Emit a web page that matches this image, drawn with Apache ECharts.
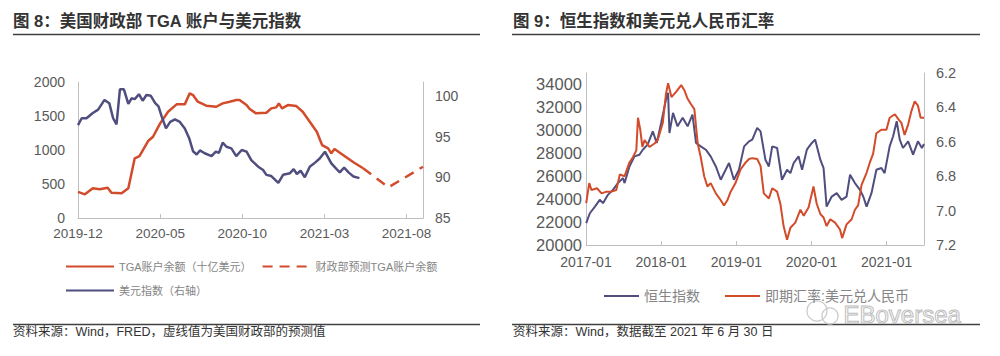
<!DOCTYPE html>
<html><head><meta charset="utf-8">
<script src="https://cdn.jsdelivr.net/npm/echarts@6/dist/echarts.min.js"></script>
<style>html,body{margin:0;padding:0;background:#fff}#c{width:1000px;height:356px}</style>
</head><body><div id="c"></div>
<script>
// ---------- Figure 8 data ----------
const tgaDates = ['2019-12-01','2019-12-14','2019-12-29','2020-01-11','2020-01-26','2020-02-02','2020-02-20','2020-03-03','2020-03-15','2020-03-24','2020-04-09','2020-04-18','2020-05-01','2020-05-16','2020-06-01','2020-06-16','2020-06-25','2020-07-01','2020-07-10','2020-07-26','2020-08-14','2020-08-26','2020-09-08','2020-09-20','2020-09-26','2020-10-09','2020-10-15','2020-10-27','2020-11-15','2020-11-24','2020-12-03','2020-12-08','2020-12-14','2020-12-25','2021-01-10','2021-01-22','2021-02-04','2021-02-16','2021-02-25','2021-03-08','2021-03-14','2021-03-20','2021-04-05','2021-04-24','2021-05-12'];
const tgaValues = [385,348,436,422,446,372,363,436,877,911,1132,1195,1392,1563,1671,1671,1833,1808,1710,1651,1636,1686,1710,1735,1735,1661,1602,1539,1548,1612,1627,1686,1612,1661,1646,1563,1416,1269,1073,1024,951,1014,926,819,731];
const tgaForecastDates = ['2021-05-12','2021-06-28','2021-09-01'];
const tgaForecastValues = [731,451,754];
const dxyDates = ['2019-12-01','2019-12-08','2019-12-17','2019-12-29','2020-01-08','2020-01-20','2020-01-29','2020-02-05','2020-02-11','2020-02-17','2020-02-24','2020-03-03','2020-03-09','2020-03-15','2020-03-23','2020-03-30','2020-04-06','2020-04-14','2020-04-22','2020-04-28','2020-05-04','2020-05-12','2020-05-20','2020-05-29','2020-06-07','2020-06-16','2020-06-24','2020-07-01','2020-07-08','2020-07-14','2020-07-23','2020-08-05','2020-08-13','2020-08-19','2020-08-26','2020-09-02','2020-09-11','2020-09-20','2020-09-30','2020-10-09','2020-10-18','2020-10-31','2020-11-09','2020-11-15','2020-11-24','2020-12-07','2020-12-16','2020-12-29','2021-01-05','2021-01-11','2021-01-18','2021-01-26','2021-02-04','2021-02-13','2021-02-21','2021-03-02','2021-03-14','2021-03-24','2021-03-30','2021-04-07','2021-04-15','2021-04-24','2021-05-05'];
const dxyValues = [96.4,97.25,97.25,97.9,98.3,99.5,99.1,97.25,96.5,100.8,100.8,99.0,99.7,99.6,100.2,99.4,100.1,100.0,99.1,98.7,97.45,96.0,96.8,97.1,96.8,96.0,94.8,93.2,92.8,93.3,92.95,92.6,93.15,93.0,94.25,93.75,93.55,92.6,93.35,93.15,92.1,91.3,90.9,90.3,90.15,89.3,90.3,90.5,91.0,90.4,90.8,90.0,91.3,91.8,92.3,93.15,91.7,91.0,90.6,91.2,90.6,90.1,89.9];
const fig8XTicks = ['2019-12','2020-05','2020-10','2021-03','2021-08'];

// ---------- Figure 9 data ----------
const hsiDates = ['2017-01-02','2017-01-20','2017-02-13','2017-03-07','2017-03-23','2017-04-16','2017-05-10','2017-06-04','2017-06-28','2017-07-06','2017-07-30','2017-08-24','2017-09-17','2017-10-03','2017-10-27','2017-11-21','2017-12-10','2018-01-01','2018-01-25','2018-02-04','2018-02-10','2018-02-26','2018-03-20','2018-04-14','2018-05-08','2018-06-01','2018-06-18','2018-07-11','2018-08-05','2018-08-29','2018-09-23','2018-10-17','2018-11-10','2018-11-26','2018-12-20','2019-01-14','2019-02-08','2019-03-02','2019-03-18','2019-04-11','2019-04-27','2019-05-21','2019-06-07','2019-06-23','2019-07-17','2019-08-10','2019-09-04','2019-09-20','2019-10-06','2019-10-30','2019-11-16','2019-12-09','2020-01-03','2020-01-19','2020-02-13','2020-02-28','2020-03-14','2020-04-08','2020-05-02','2020-05-26','2020-06-19','2020-07-06','2020-07-30','2020-08-24','2020-09-09','2020-09-25','2020-10-19','2020-11-12','2020-12-06','2020-12-22','2021-01-16','2021-02-02','2021-02-18','2021-03-04','2021-03-20','2021-04-14','2021-05-08','2021-06-01','2021-06-20','2021-06-30'];
const hsiValues = [21900,22770,23350,23940,23650,24375,24810,25400,25830,25400,26850,27730,27875,28310,28750,29910,28900,30650,32690,33270,29770,31520,30350,31090,30350,31370,28900,28600,28310,27730,26850,25690,26560,27150,25690,26560,28600,29040,29190,30210,29910,27440,26850,28600,28460,25690,26560,26270,27150,27730,26560,28310,28900,29190,27440,26710,23350,24225,24520,23940,24225,26125,25400,24810,24225,23350,24520,26560,26710,26270,28600,29480,30790,29190,28460,29040,27875,29040,28460,28800];
const cnyDates = ['2017-01-02','2017-01-17','2017-01-28','2017-02-22','2017-03-16','2017-04-09','2017-05-03','2017-05-27','2017-06-13','2017-07-06','2017-07-30','2017-08-16','2017-09-02','2017-09-10','2017-09-21','2017-10-01','2017-10-12','2017-11-05','2017-11-29','2017-12-15','2018-01-09','2018-01-25','2018-02-04','2018-02-19','2018-03-13','2018-04-07','2018-04-22','2018-05-08','2018-05-24','2018-06-10','2018-06-26','2018-07-11','2018-07-28','2018-08-13','2018-08-29','2018-09-23','2018-10-17','2018-11-02','2018-11-18','2018-12-04','2018-12-28','2019-01-22','2019-02-15','2019-03-02','2019-03-18','2019-04-11','2019-04-27','2019-05-13','2019-06-07','2019-06-23','2019-07-17','2019-08-02','2019-08-18','2019-09-04','2019-09-20','2019-10-14','2019-11-08','2019-11-24','2019-12-18','2020-01-11','2020-01-27','2020-02-13','2020-02-28','2020-03-14','2020-04-01','2020-04-24','2020-05-18','2020-05-29','2020-06-19','2020-07-14','2020-07-30','2020-08-15','2020-09-01','2020-09-25','2020-10-11','2020-10-27','2020-11-12','2020-12-06','2020-12-31','2021-01-16','2021-02-10','2021-02-26','2021-03-12','2021-03-28','2021-04-14','2021-04-30','2021-05-16','2021-06-01','2021-06-14','2021-06-30'];
const cnyValues = [6.957,6.84,6.88,6.87,6.90,6.89,6.89,6.88,6.79,6.80,6.72,6.69,6.65,6.46,6.53,6.63,6.59,6.63,6.61,6.59,6.49,6.32,6.26,6.34,6.31,6.27,6.30,6.35,6.38,6.41,6.61,6.69,6.80,6.86,6.84,6.90,6.94,6.97,6.94,6.89,6.84,6.76,6.72,6.70,6.695,6.70,6.74,6.90,6.93,6.87,6.89,6.96,7.09,7.17,7.10,7.07,6.995,7.03,6.98,6.86,6.96,7.02,7.04,7.09,7.05,7.07,7.11,7.16,7.08,7.05,6.995,6.97,6.85,6.78,6.72,6.67,6.55,6.53,6.53,6.46,6.44,6.47,6.49,6.56,6.50,6.42,6.365,6.39,6.46,6.46];
const fig9XTicks = ['2017-01','2018-01','2019-01','2020-01','2021-01'];

// ---------- helpers ----------
function monthsSince(s, y0, m0) {
  const p = s.split('-').map(Number);
  const dim = new Date(p[0], p[1], 0).getDate();
  return (p[0] - y0) * 12 + (p[1] - m0) + (p[2] - 1) / dim;
}
const m8 = s => monthsSince(s, 2019, 12);          // months since 2019-12
const y9 = s => monthsSince(s, 2017, 1) / 12;      // years since 2017-01
const pairs = (ds, vs, f) => ds.map((d, i) => [f(d), vs[i]]);

const RED = '#D24B2A', BLUE = '#4F4E7F';
const FONT = '"Liberation Sans","Noto Sans CJK SC",sans-serif';
const AX = '#BFBFBF', LBL = '#595959', LEG = '#858585';

const chart = echarts.init(document.getElementById('c'), null, {renderer: 'svg'});
const near = (v, k) => Math.abs(v / k - Math.round(v / k)) < 1e-6;
const legendCommon = {itemHeight: 14, itemStyle: {opacity: 0}};

chart.setOption({
  animation: false,
  textStyle: {fontFamily: FONT},
  grid: [
    {left: 78, right: 577, top: 82, bottom: 138},
    {left: 586, right: 76, top: 73, bottom: 111}
  ],
  xAxis: [
    {type: 'value', gridIndex: 0, min: 0, max: 21, interval: 5,
     axisLine: {lineStyle: {color: AX}}, axisTick: {inside: true, length: 4, lineStyle: {color: AX}},
     splitLine: {show: false},
     axisLabel: {color: LBL, fontSize: 13.5, margin: 9, fontFamily: FONT,
       formatter: v => near(v, 5) ? fig8XTicks[Math.round(v / 5)] : ''}},
    {type: 'value', gridIndex: 1, min: 0, max: y9('2021-06-30'), interval: 1,
     axisLine: {lineStyle: {color: AX}}, axisTick: {inside: true, length: 4, lineStyle: {color: AX}},
     splitLine: {show: false},
     axisLabel: {color: LBL, fontSize: 14, margin: 10, fontFamily: FONT,
       formatter: v => near(v, 1) ? fig9XTicks[Math.round(v)] : ''}}
  ],
  yAxis: [
    {type: 'value', gridIndex: 0, min: 0, max: 2000, interval: 500,
     axisLine: {show: true, lineStyle: {color: AX}}, axisTick: {show: false}, splitLine: {show: false},
     axisLabel: {color: LBL, fontSize: 14, margin: 13, fontFamily: FONT, formatter: v => String(v)}},
    {type: 'value', gridIndex: 0, position: 'right', min: 85, max: 101.7, interval: 5,
     axisLine: {show: true, lineStyle: {color: AX}}, axisTick: {show: false}, splitLine: {show: false},
     axisLabel: {color: LBL, fontSize: 14, margin: 12, fontFamily: FONT,
       formatter: v => near(v, 5) ? String(v) : ''}},
    {type: 'value', gridIndex: 1, min: 20000, max: 35000, interval: 2000,
     axisLine: {show: true, lineStyle: {color: AX}}, axisTick: {show: false}, splitLine: {show: false},
     axisLabel: {color: LBL, fontSize: 16.5, margin: 4, fontFamily: FONT,
       formatter: v => v <= 34000 ? String(v) : ''}},
    {type: 'value', gridIndex: 1, position: 'right', inverse: true, min: 6.2, max: 7.2, interval: 0.2,
     axisLine: {show: true, lineStyle: {color: AX}}, axisTick: {show: false}, splitLine: {show: false},
     axisLabel: {color: LBL, fontSize: 14.5, margin: 12, fontFamily: FONT,
       formatter: v => v.toFixed(1)}}
  ],
  legend: [
    Object.assign({}, legendCommon, {left: 60, top: 256, itemWidth: 48, itemGap: 10,
     data: ['TGA账户余额（十亿美元）', '财政部预测TGA账户余额'],
     textStyle: {color: LEG, fontSize: 11, fontFamily: FONT}}),
    Object.assign({}, legendCommon, {left: 60, top: 280, itemWidth: 48,
     data: ['美元指数（右轴）'],
     textStyle: {color: LEG, fontSize: 11, fontFamily: FONT}}),
    Object.assign({}, legendCommon, {left: 598, top: 284, itemWidth: 35, itemGap: 24,
     data: ['恒生指数', '即期汇率:美元兑人民币'],
     textStyle: {color: LEG, fontSize: 14, fontFamily: FONT}})
  ],
  series: [
    {name: 'TGA账户余额（十亿美元）', type: 'line', xAxisIndex: 0, yAxisIndex: 0, symbol: 'none',
     data: pairs(tgaDates, tgaValues, m8), lineStyle: {color: RED, width: 2.5}, itemStyle: {color: RED}},
    {name: '财政部预测TGA账户余额', type: 'line', xAxisIndex: 0, yAxisIndex: 0, symbol: 'none',
     data: pairs(tgaForecastDates, tgaForecastValues, m8), lineStyle: {color: RED, width: 2.5, type: [10, 7]}, itemStyle: {color: RED}},
    {name: '美元指数（右轴）', type: 'line', xAxisIndex: 0, yAxisIndex: 1, symbol: 'none',
     data: pairs(dxyDates, dxyValues, m8), lineStyle: {color: BLUE, width: 2.5}, itemStyle: {color: BLUE}},
    {name: '恒生指数', type: 'line', xAxisIndex: 1, yAxisIndex: 2, symbol: 'none',
     data: pairs(hsiDates, hsiValues, y9), lineStyle: {color: BLUE, width: 2}, itemStyle: {color: BLUE}},
    {name: '即期汇率:美元兑人民币', type: 'line', xAxisIndex: 1, yAxisIndex: 3, symbol: 'none',
     data: pairs(cnyDates, cnyValues, y9), lineStyle: {color: RED, width: 2}, itemStyle: {color: RED}}
  ],
  graphic: [
    {type: 'text', left: 13, top: 13, style: {text: '图 8：美国财政部 TGA 账户与美元指数', fill: '#333', font: 'bold 16.5px ' + FONT}},
    {type: 'line', shape: {x1: 13, y1: 34.5, x2: 480, y2: 34.5}, style: {stroke: '#404040', lineWidth: 1.5}},
    {type: 'text', left: 513, top: 13, style: {text: '图 9：恒生指数和美元兑人民币汇率', fill: '#333', font: 'bold 16.5px ' + FONT}},
    {type: 'line', shape: {x1: 512, y1: 34.5, x2: 980, y2: 34.5}, style: {stroke: '#404040', lineWidth: 1.5}},
    {type: 'line', shape: {x1: 13, y1: 324.5, x2: 480, y2: 324.5}, style: {stroke: '#404040', lineWidth: 1.5}},
    {type: 'line', shape: {x1: 512, y1: 324.5, x2: 980, y2: 324.5}, style: {stroke: '#404040', lineWidth: 1.5}},
    {type: 'text', left: 13, top: 326, style: {text: '资料来源：Wind，FRED，虚线值为美国财政部的预测值', fill: '#333', font: '12.5px ' + FONT}},
    {type: 'text', left: 513, top: 326, style: {text: '资料来源：Wind，数据截至 2021 年 6 月 30 日', fill: '#333', font: '12.5px ' + FONT}},
    {type: 'circle', shape: {cx: 817, cy: 311, r: 10}, style: {fill: 'none', stroke: '#C8C8C8', lineWidth: 1.2}},
    {type: 'circle', shape: {cx: 830, cy: 316, r: 8}, style: {fill: 'none', stroke: '#C8C8C8', lineWidth: 1.2}},
    {type: 'text', left: 843, top: 302, style: {text: 'EBoversea', fill: 'rgba(255,255,255,0)', stroke: '#BDBDBD', lineWidth: 1, font: '24px ' + FONT}}
  ]
});
</script></body></html>
